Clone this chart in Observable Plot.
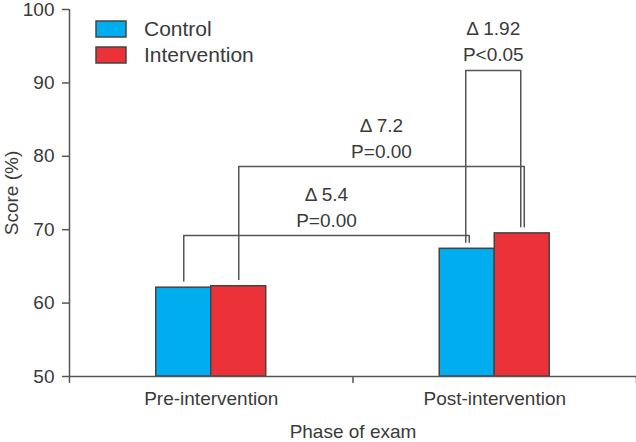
<!DOCTYPE html>
<html>
<head>
<meta charset="utf-8">
<script src="https://cdn.jsdelivr.net/npm/d3@7"></script>
<script src="https://cdn.jsdelivr.net/npm/@observablehq/plot@0.6"></script>
<style>
  html, body { margin: 0; padding: 0; background: #fff; }
  #chart { position: relative; width: 636px; height: 442px; }
  #legend { position: absolute; left: 96px; top: 16px; }
  .lg-swatch { padding-bottom: 0 !important; }
  .lg-swatch > svg { margin-right: 18px !important; }
  .lg-swatch svg rect { stroke: #444; stroke-width: 1.5; }
</style>
</head>
<body>
<div id="chart"><div id="legend"></div></div>
<script>
// ---- data ----
const phases = ["Pre-intervention", "Post-intervention"];
const groups = ["Control", "Intervention"];
const controlScores = [62.1, 67.4];
const interventionScores = [62.3, 69.5];
const yTicks = [50, 60, 70, 80, 90, 100];

// comparison brackets
const bracketPhaseA = ["Pre-intervention", "Pre-intervention", "Post-intervention"];
const bracketGroupA = ["Control", "Intervention", "Control"];
const bracketPhaseB = ["Post-intervention", "Post-intervention", "Post-intervention"];
const bracketGroupB = ["Control", "Intervention", "Intervention"];
const bracketLevel = [69.2, 78.6, 91.7];
const bracketDelta = ["Δ 5.4", "Δ 7.2", "Δ 1.92"];
const bracketP = ["P=0.00", "P=0.00", "P<0.05"];

// ---- layout helpers ----
const colors = ["#00AEEF", "#EC3239"];
const ink = "#3a3a3a";
const axisInk = "#555";
const font = "'Liberation Sans', Arial, sans-serif";
const barWidth = 0.194;          // fraction of a phase band
const pxPerUnit = 567 / phases.length;
const legGap = 0.9;              // gap above bars (score units)

const valueOf = (p, g) => {
  const i = phases.indexOf(p);
  return groups.indexOf(g) === 0 ? controlScores[i] : interventionScores[i];
};
const xOf = (p, g) => phases.indexOf(p) + 0.5 + (groups.indexOf(g) - 0.5) * barWidth;

const bars = phases.flatMap((p, i) => groups.map((g, gi) => ({
  phase: p, group: g, value: valueOf(p, g),
  x1: i + 0.5 + (gi - 1) * barWidth,
  x2: i + 0.5 + gi * barWidth
})));

const brackets = bracketLevel.map((lvl, k) => {
  const cross = bracketPhaseA[k] !== bracketPhaseB[k];
  const nA = cross ? 0 : -1.5 / pxPerUnit;
  const nB = cross ? 2 / pxPerUnit : -1.5 / pxPerUnit;
  const xa = xOf(bracketPhaseA[k], bracketGroupA[k]) + nA;
  const xb = xOf(bracketPhaseB[k], bracketGroupB[k]) + nB;
  return {
    id: k, level: lvl, xa, xb, mid: (xa + xb) / 2,
    ya: valueOf(bracketPhaseA[k], bracketGroupA[k]) + legGap,
    yb: valueOf(bracketPhaseB[k], bracketGroupB[k]) + legGap,
    label: bracketDelta[k] + "\n" + bracketP[k]
  };
});
const bracketPts = brackets.flatMap(b => [
  {id: b.id, x: b.xa, y: b.ya},
  {id: b.id, x: b.xa, y: b.level},
  {id: b.id, x: b.xb, y: b.level},
  {id: b.id, x: b.xb, y: b.yb}
]);

const chart = Plot.plot({
  width: 636,
  height: 442,
  marginLeft: 69,
  marginRight: 0,
  marginTop: 9,
  marginBottom: 66,
  style: {fontFamily: font, fontSize: "19px", color: ink, background: "#fff"},
  x: {type: "linear", domain: [0, phases.length]},
  y: {domain: [yTicks[0], yTicks[yTicks.length - 1]]},
  color: {domain: groups, range: colors},
  marks: [
    Plot.rectY(bars, {x1: "x1", x2: "x2", y1: yTicks[0], y2: "value", fill: "group", stroke: "#444", strokeWidth: 1.5}),
    Plot.line(bracketPts, {x: "x", y: "y", z: "id", stroke: axisInk, strokeWidth: 1.5}),
    Plot.text(brackets, {x: "mid", y: "level", text: "label", lineAnchor: "bottom", dy: -9, lineHeight: 1.37, fontSize: 19, fill: ink}),
    Plot.ruleX([0], {y1: yTicks[0], y2: yTicks[yTicks.length - 1], stroke: axisInk, strokeWidth: 1.5}),
    Plot.ruleY([yTicks[0]], {stroke: axisInk, strokeWidth: 1.5}),
    Plot.axisY({ticks: yTicks, tickSize: 7, tickPadding: 8, stroke: axisInk, strokeWidth: 1.5,
      fontSize: 19, label: "Score (%)", labelAnchor: "center", labelArrow: "none", labelOffset: 65}),
    Plot.axisX({ticks: d3.range(phases.length + 1), tickSize: 7, tickFormat: () => "", stroke: axisInk, strokeWidth: 1.5, label: null}),
    Plot.axisX({ticks: phases.map((p, i) => i + 0.5), tickSize: 0, tickPadding: 15, fontSize: 19,
      tickFormat: v => phases[Math.floor(v)], label: "Phase of exam", labelAnchor: "center", labelArrow: "none", labelOffset: 61})
  ]
});
document.getElementById("chart").prepend(chart);

const legend = Plot.legend({
  color: {domain: groups, range: colors},
  legend: "swatches",
  columns: 1,
  swatchWidth: 30,
  swatchHeight: 16,
  className: "lg",
  style: {fontFamily: font, fontSize: "21px", color: ink, lineHeight: "26px", margin: "0"}
});
document.getElementById("legend").appendChild(legend);
</script>
</body>
</html>
